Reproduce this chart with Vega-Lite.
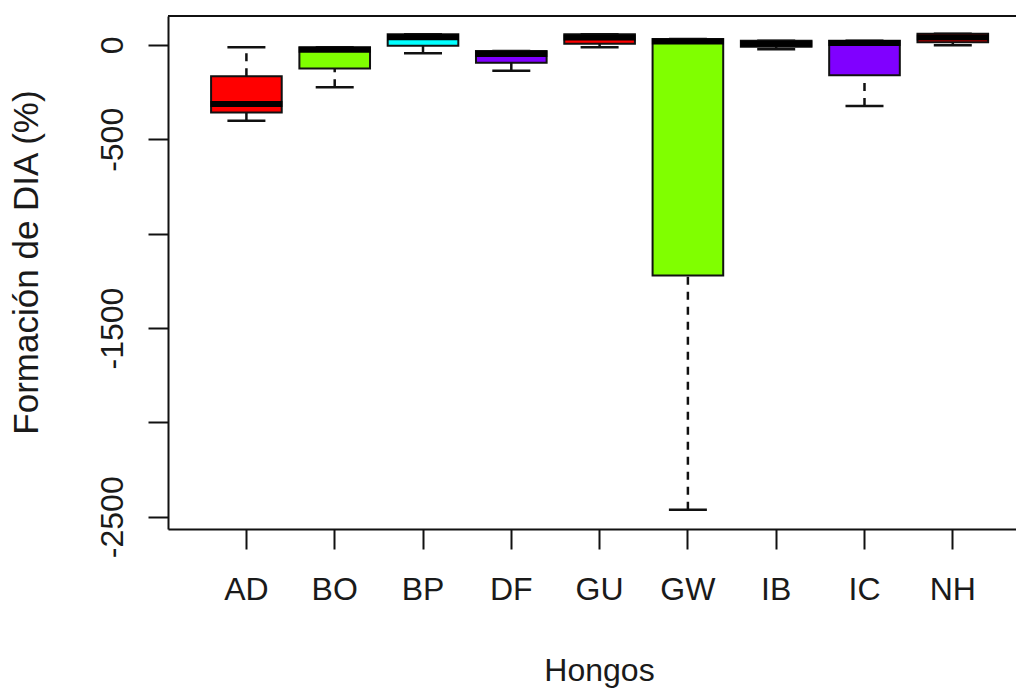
{
  "$schema": "https://vega.github.io/schema/vega-lite/v6.json",
  "autosize": "none",
  "width": 848,
  "height": 513,
  "padding": {"left": 168, "top": 16, "right": 0, "bottom": 160},
  "background": "white",
  "config": {
    "view": {"stroke": null},
    "font": "Liberation Sans"
  },
  "data": {
    "values": [
      {"g": "AD", "lower": -401, "q1": -358, "median": -313, "q3": -166, "upper": -12},
      {"g": "BO", "lower": -224, "q1": -125, "median": -25, "q3": -12, "upper": -12},
      {"g": "BP", "lower": -44, "q1": -4, "median": 41, "q3": 57, "upper": 57},
      {"g": "DF", "lower": -136, "q1": -94, "median": -48, "q3": -32, "upper": -32},
      {"g": "GU", "lower": -12, "q1": 7, "median": 40, "q3": 57, "upper": 57},
      {"g": "GW", "lower": -2463, "q1": -1222, "median": 18, "q3": 32, "upper": 32},
      {"g": "IB", "lower": -23, "q1": -9, "median": 7, "q3": 23, "upper": 23},
      {"g": "IC", "lower": -323, "q1": -161, "median": 10, "q3": 23, "upper": 23},
      {"g": "NH", "lower": -2, "q1": 14, "median": 40, "q3": 60, "upper": 60}
    ]
  },
  "encoding": {
    "x": {
      "field": "g",
      "type": "nominal",
      "sort": null,
      "scale": {"range": [0, 863.2], "paddingInner": 0.2, "paddingOuter": 0.488},
      "axis": {
        "title": "Hongos",
        "labelAngle": 0,
        "labelFontSize": 32,
        "labelColor": "#1a1a1a",
        "labelBaseline": "alphabetic",
        "labelPadding": 50,
        "tickSize": 20,
        "tickWidth": 2,
        "tickColor": "#111",
        "domain": true,
        "domainColor": "#111",
        "domainWidth": 2,
        "titleFontSize": 32,
        "titleFontWeight": "normal",
        "titleColor": "#1a1a1a",
        "titleBaseline": "alphabetic",
        "titleAlign": "center",
        "titleX": 431,
        "titleY": 151
      }
    }
  },
  "layer": [
    {
      "mark": {"type": "rule", "color": "#111", "strokeWidth": 2.5, "strokeDash": [8, 7]},
      "encoding": {
        "y": {
          "field": "lower",
          "type": "quantitative",
          "scale": {"domain": [-2565, 153.6], "nice": false, "zero": false},
          "axis": {
            "title": "Formación de DIA (%)",
            "values": [0, -500, -1000, -1500, -2000, -2500],
            "labelExpr": "datum.value == -1000 || datum.value == -2000 ? '' : toString(datum.value)",
            "grid": false,
            "labelAngle": 270,
            "labelAlign": "center",
            "labelBaseline": "alphabetic",
            "labelPadding": 26,
            "labelFontSize": 32,
            "labelColor": "#1a1a1a",
            "tickSize": 20,
            "tickWidth": 2,
            "tickColor": "#111",
            "domain": true,
            "domainColor": "#111",
            "domainWidth": 2,
            "titleFontSize": 35,
            "titleFontWeight": "normal",
            "titleColor": "#1a1a1a",
            "titleAngle": 270,
            "titleAlign": "center",
            "titleBaseline": "alphabetic",
            "titleX": -131,
            "titleY": 246
          }
        },
        "y2": {"field": "q1"}
      }
    },
    {
      "mark": {"type": "rule", "color": "#111", "strokeWidth": 2.5, "strokeDash": [8, 7]},
      "encoding": {
        "y": {"field": "q3", "type": "quantitative"},
        "y2": {"field": "upper"}
      }
    },
    {
      "mark": {"type": "tick", "color": "#111", "size": 38, "thickness": 2.5, "opacity": 1},
      "encoding": {"y": {"field": "lower", "type": "quantitative"}}
    },
    {
      "mark": {"type": "tick", "color": "#111", "size": 38, "thickness": 2.5, "opacity": 1},
      "encoding": {"y": {"field": "upper", "type": "quantitative"}}
    },
    {
      "mark": {"type": "bar", "stroke": "#111", "strokeWidth": 2, "opacity": 1},
      "encoding": {
        "y": {"field": "q1", "type": "quantitative"},
        "y2": {"field": "q3"},
        "fill": {
          "field": "g",
          "type": "nominal",
          "scale": {
            "domain": ["AD", "BO", "BP", "DF", "GU", "GW", "IB", "IC", "NH"],
            "range": ["#FF0000", "#80FF00", "#00FFFF", "#8000FF", "#FF0000", "#80FF00", "#00FFFF", "#8000FF", "#FF0000"]
          },
          "legend": null
        }
      }
    },
    {
      "mark": {"type": "tick", "color": "#000", "size": 72, "thickness": 6, "opacity": 1},
      "encoding": {"y": {"field": "median", "type": "quantitative"}}
    },
    {
      "mark": {"type": "rule", "color": "#111", "strokeWidth": 2},
      "encoding": {"y": {"datum": 153.6}, "x": {"value": 0}, "x2": {"value": 848}}
    }
  ]
}
